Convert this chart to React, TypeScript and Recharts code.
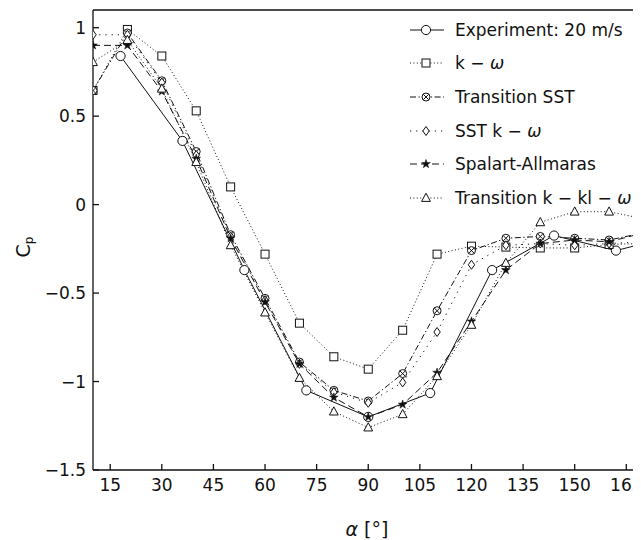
import React from 'react';
import { LineChart, Line, XAxis, YAxis, ReferenceLine } from 'recharts';

const cfdAlpha = [10, 20, 30, 40, 50, 60, 70, 80, 90, 100, 110, 120, 130, 140, 150, 160, 170];
const expAlpha = [18, 36, 54, 72, 90, 108, 126, 144, 162, 170];

const expValues = [0.84, 0.36, -0.37, -1.05, -1.2, -1.065, -0.37, -0.175, -0.26, -0.22];
const kOmega = [0.645, 0.99, 0.84, 0.53, 0.1, -0.28, -0.67, -0.86, -0.93, -0.71, -0.28, -0.235, -0.24, -0.245, -0.245, -0.225, -0.22];
const transSST = [0.645, 0.97, 0.7, 0.3, -0.17, -0.53, -0.89, -1.05, -1.11, -0.955, -0.6, -0.26, -0.19, -0.18, -0.19, -0.2, -0.16];
const sstKOmega = [0.96, 0.96, 0.69, 0.28, -0.18, -0.54, -0.9, -1.06, -1.12, -1.005, -0.72, -0.34, -0.23, -0.22, -0.23, -0.22, -0.21];
const spalart = [0.9, 0.9, 0.64, 0.26, -0.19, -0.55, -0.9, -1.09, -1.2, -1.13, -0.95, -0.66, -0.37, -0.22, -0.2, -0.21, -0.16];
const transKkl = [0.805, 0.93, 0.655, 0.24, -0.23, -0.61, -0.98, -1.17, -1.26, -1.185, -0.97, -0.68, -0.33, -0.1, -0.04, -0.04, -0.08];

const xTicks = [15, 30, 45, 60, 75, 90, 105, 120, 135, 150, 165];
const yTicks = [-1.5, -1, -0.5, 0, 0.5, 1];

const build = (xs: number[], ys: number[]) => xs.map((a, i) => ({ a, v: ys[i] }));

const FONT = '"DejaVu Sans", sans-serif';
const INK = '#111';

type MK = 'circle' | 'square' | 'otimes' | 'diamond' | 'star' | 'triangle';

function marker(kind: MK, cx: number, cy: number, key?: any) {
  const sw = 1;
  switch (kind) {
    case 'circle':
      return <circle key={key} cx={cx} cy={cy} r={4.6} fill="#fff" stroke={INK} strokeWidth={sw} />;
    case 'square':
      return <rect key={key} x={cx - 4} y={cy - 4} width={8} height={8} fill="#fff" stroke={INK} strokeWidth={sw} />;
    case 'otimes': {
      const d = 2.7;
      return (
        <g key={key}>
          <circle cx={cx} cy={cy} r={4} fill="#fff" stroke={INK} strokeWidth={sw} />
          <path d={`M${cx - d},${cy - d}L${cx + d},${cy + d}M${cx - d},${cy + d}L${cx + d},${cy - d}`} stroke={INK} strokeWidth={sw} />
        </g>
      );
    }
    case 'diamond':
      return <path key={key} d={`M${cx},${cy - 4.5}L${cx + 3.2},${cy}L${cx},${cy + 4.5}L${cx - 3.2},${cy}Z`} fill="#fff" stroke={INK} strokeWidth={sw} />;
    case 'star': {
      const pts: string[] = [];
      for (let i = 0; i < 10; i++) {
        const r = i % 2 === 0 ? 4.6 : 1.8;
        const ang = -Math.PI / 2 + (i * Math.PI) / 5;
        pts.push(`${cx + r * Math.cos(ang)},${cy + r * Math.sin(ang)}`);
      }
      return <polygon key={key} points={pts.join(' ')} fill={INK} stroke={INK} strokeWidth={0.5} />;
    }
    case 'triangle':
      return <path key={key} d={`M${cx},${cy - 4.8}L${cx + 4.4},${cy + 3.4}L${cx - 4.4},${cy + 3.4}Z`} fill="#fff" stroke={INK} strokeWidth={sw} />;
  }
}

const series: { name: React.ReactNode; id: string; xs: number[]; ys: number[]; dash?: string; mk: MK }[] = [
  { id: 'exp', name: 'Experiment: 20 m/s', xs: expAlpha, ys: expValues, mk: 'circle' },
  { id: 'kw', name: <>k − <i>ω</i></>, xs: cfdAlpha, ys: kOmega, dash: '1 2.4', mk: 'square' },
  { id: 'tsst', name: 'Transition SST', xs: cfdAlpha, ys: transSST, dash: '6 2.5 1.3 2.5', mk: 'otimes' },
  { id: 'sst', name: <>SST k − <i>ω</i></>, xs: cfdAlpha, ys: sstKOmega, dash: '1.2 5', mk: 'diamond' },
  { id: 'sa', name: 'Spalart-Allmaras', xs: cfdAlpha, ys: spalart, dash: '7 4', mk: 'star' },
  { id: 'tkkl', name: <>Transition k − kl − <i>ω</i></>, xs: cfdAlpha, ys: transKkl, dash: '1 2.4', mk: 'triangle' },
];

const fmtY = (v: number) => (v < 0 ? '\u2212' + Math.abs(v) : String(v));

function LegendBox() {
  return (
    <div
      style={{
        position: 'absolute',
        left: 400,
        top: 5,
        width: 232,
        fontFamily: FONT,
        fontSize: 17,
        color: INK,
        background: 'transparent',
      }}
    >
      {series.map((s) => (
        <div key={s.id} style={{ display: 'flex', alignItems: 'center', height: 33.6, whiteSpace: 'nowrap' }}>
          <svg width={42} height={20} style={{ marginRight: 5, flex: 'none' }}>
            <line x1={2} y1={10} x2={36} y2={10} stroke={INK} strokeWidth={1} strokeDasharray={s.dash} />
            {marker(s.mk, 18, 10)}
          </svg>
          <span>{s.name}</span>
        </div>
      ))}
    </div>
  );
}

export default function App() {
  return (
    <div style={{ position: 'relative', width: 633, height: 532, overflow: 'hidden' }}>
      <LineChart width={640} height={530} margin={{ top: 2, right: 4.5, bottom: 0, left: 0 }}>
        <XAxis
          dataKey="a"
          type="number"
          domain={[10, 170]}
          ticks={xTicks}
          allowDataOverflow
          height={68}
          tickSize={-6}
          tickMargin={15}
          stroke={INK}
          strokeWidth={1.3}
          tick={{ fontFamily: FONT, fontSize: 17, fill: INK }}
        />
        <YAxis
          type="number"
          domain={[-1.5, 1.1]}
          ticks={yTicks}
          allowDataOverflow
          width={85}
          tickSize={-6}
          tickMargin={13}
          stroke={INK}
          strokeWidth={1.3}
          tickFormatter={fmtY}
          tick={{ fontFamily: FONT, fontSize: 17, fill: INK }}
        />
        <ReferenceLine y={1.1} stroke={INK} strokeWidth={1.3} />
        {series.map((s) => (
          <Line
            key={s.id}
            data={build(s.xs, s.ys)}
            dataKey="v"
            type="linear"
            stroke={INK}
            strokeWidth={1}
            strokeDasharray={s.dash}
            isAnimationActive={false}
            dot={(p: any) => marker(s.mk, p.cx, p.cy, `${s.id}-${p.index}`)}
            activeDot={false}
            legendType="none"
          />
        ))}
      </LineChart>
      <LegendBox />
      <div
        style={{
          position: 'absolute',
          left: 15 - 30,
          top: 239 - 13,
          width: 60,
          height: 26,
          lineHeight: '26px',
          transform: 'rotate(-90deg)',
          textAlign: 'center',
          fontFamily: FONT,
          fontSize: 19,
          color: INK,
        }}
      >
        C<sub style={{ fontSize: 12, verticalAlign: -3 }}>p</sub>
      </div>
      <div
        style={{
          position: 'absolute',
          left: 359 - 40,
          top: 521 - 13,
          width: 80,
          height: 26,
          lineHeight: '26px',
          textAlign: 'center',
          fontFamily: FONT,
          fontSize: 19,
          color: INK,
        }}
      >
        <i>α</i> [°]
      </div>
    </div>
  );
}
